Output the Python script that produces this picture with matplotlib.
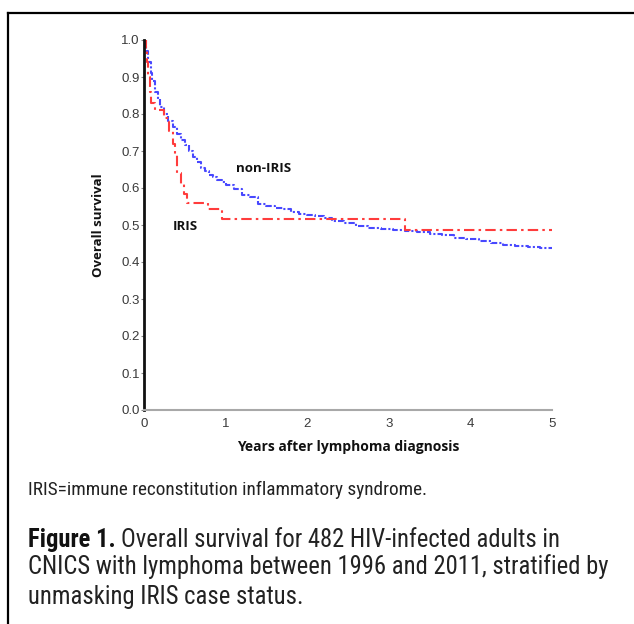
import matplotlib
matplotlib.use("Agg")
import matplotlib.pyplot as plt
from matplotlib.lines import Line2D
from matplotlib import font_manager as fm

# ---- data ----
iris_t = [0, 0.02, 0.04, 0.05, 0.07, 0.09, 0.13, 0.25, 0.31, 0.35, 0.38, 0.41, 0.45, 0.49, 0.53, 0.78, 0.96, 3.20, 5.0]
iris_s = [1.0, 0.97, 0.94, 0.90, 0.86, 0.83, 0.81, 0.79, 0.755, 0.72, 0.69, 0.64, 0.61, 0.585, 0.56, 0.543, 0.516, 0.486, 0.486]

non_t = [0, 0.02, 0.05, 0.08, 0.10, 0.13, 0.17, 0.20, 0.25, 0.30, 0.35, 0.40, 0.45, 0.50, 0.55,
         0.60, 0.65, 0.70, 0.75, 0.80, 0.85, 0.90, 0.95, 1.00, 1.10, 1.20, 1.30, 1.40, 1.50, 1.60,
         1.70, 1.80, 1.90, 2.00, 2.10, 2.20, 2.30, 2.45, 2.60, 2.75, 2.90, 3.05, 3.20, 3.35, 3.50,
         3.65, 3.80, 3.95, 4.10, 4.25, 4.40, 4.55, 4.70, 4.85, 5.0]
non_s = [1.0, 0.97, 0.94, 0.91, 0.89, 0.86, 0.84, 0.82, 0.80, 0.78, 0.765, 0.745, 0.73, 0.715, 0.70,
         0.685, 0.67, 0.655, 0.645, 0.635, 0.63, 0.622, 0.615, 0.608, 0.597, 0.582, 0.575, 0.557, 0.55, 0.547,
         0.542, 0.535, 0.530, 0.527, 0.524, 0.520, 0.512, 0.506, 0.498, 0.493, 0.489, 0.486, 0.484, 0.481, 0.476,
         0.472, 0.466, 0.462, 0.457, 0.452, 0.445, 0.443, 0.440, 0.437, 0.435]

x_ticks = [0, 1, 2, 3, 4, 5]
y_ticks = [0.0, 0.1, 0.2, 0.3, 0.4, 0.5, 0.6, 0.7, 0.8, 0.9, 1.0]

# ---- fonts ----
ttf = fm.fontManager.ttflist
names = {f.name for f in ttf}
narrow_family, narrow_stretch = "Liberation Sans", "normal"
for cand in ["Liberation Sans Narrow", "Roboto Condensed", "Open Sans Condensed", "DejaVu Sans Condensed"]:
    if cand in names:
        narrow_family = cand
        break
else:
    if any(f.name == "DejaVu Sans" and str(f.stretch) in ("condensed", "semi-condensed") for f in ttf):
        narrow_family, narrow_stretch = "DejaVu Sans", "condensed"

sans = "Liberation Sans"
boldlab = "Open Sans"

W, H = 634, 624
fig = plt.figure(figsize=(W / 100, H / 100), dpi=100)

def fx(px):
    return px / W

def fy(py):
    return 1 - py / H

ax = fig.add_axes([fx(144), fy(410), fx(552) - fx(144), fy(40) - fy(410)])

ax.step(non_t, non_s, where="post", color="#4848ff", lw=1.5,
        linestyle=(0, (3, 1, 1, 1)))
ax.step(iris_t, iris_s, where="post", color="#ff3c3c", lw=1.5,
        linestyle=(0, (5, 2, 1.2, 2)))

ax.set_xlim(0, 5)
ax.set_ylim(0, 1.0)
ax.set_xticks(x_ticks)
ax.set_xticklabels([str(v) for v in x_ticks])
ax.set_yticks(y_ticks)
ax.set_yticklabels([f"{v:.1f}" for v in y_ticks])
for lab in ax.get_xticklabels() + ax.get_yticklabels():
    lab.set_fontfamily(sans)
    lab.set_fontsize(9.5)
    lab.set_color("#3a3a3a")
ax.tick_params(axis="y", length=2, width=0.8, color="#888888", pad=1)
ax.tick_params(axis="x", length=0, pad=6)

for s in ["top", "right"]:
    ax.spines[s].set_visible(False)
ax.spines["left"].set_linewidth(2.0)
ax.spines["left"].set_color("#111111")
ax.spines["bottom"].set_linewidth(1.5)
ax.spines["bottom"].set_color("#a8a8a8")

ax.set_xlabel("Years after lymphoma diagnosis", fontfamily=boldlab, fontweight="bold",
              fontsize=10, color="#111111", labelpad=7)
ax.set_ylabel("Overall survival", fontfamily=boldlab, fontweight="bold",
              fontsize=9.5, color="#111111", labelpad=12)

ax.text(1.13, 0.652, "non-IRIS", fontfamily=boldlab, fontweight="bold", fontsize=9.5,
        color="#111111", va="center", ha="left")
ax.text(0.35, 0.497, "IRIS", fontfamily=boldlab, fontweight="bold", fontsize=9.5,
        color="#111111", va="center", ha="left")

# captions
kw = dict(fontfamily=narrow_family, fontstretch=narrow_stretch, va="center", ha="left")
note = fig.text(fx(28), fy(490), "IRIS=immune reconstitution inflammatory syndrome.",
                fontsize=12, color="#222222", **kw)
fig_lab = fig.text(fx(28), fy(540), "Figure 1.", fontweight="bold", fontsize=15,
                   color="#111111", **kw)
cap_lines = ["Overall survival for 482 HIV-infected adults in",
             "CNICS with lymphoma between 1996 and 2011, stratified by",
             "unmasking IRIS case status."]
c0 = fig.text(fx(112), fy(540), cap_lines[0], fontsize=15, color="#222222", **kw)
c1 = fig.text(fx(28), fy(567), cap_lines[1], fontsize=15, color="#222222", **kw)
c2 = fig.text(fx(28), fy(597), cap_lines[2], fontsize=15, color="#222222", **kw)

# fit caption widths to the reference
fig.canvas.draw()
r = fig.canvas.get_renderer()
def fit(t, target_px):
    w = t.get_window_extent(r).width
    t.set_fontsize(t.get_fontsize() * target_px / w)
fit(note, 400)
fit(c1, 580)
cap_fs = c1.get_fontsize()
for t in (fig_lab, c0, c2):
    t.set_fontsize(cap_fs)
fig.canvas.draw()
wb = fig_lab.get_window_extent(r).width
space = cap_fs * 100 / 72 * 0.22
c0.set_x(fx(28 + wb + space))

# border (top and left edges)
fig.add_artist(Line2D([fx(8), fx(W + 5)], [fy(13), fy(13)], color="black", lw=1.6))
fig.add_artist(Line2D([fx(8), fx(8)], [fy(13), fy(H + 5)], color="black", lw=1.6))

fig.savefig("out.png", dpi=100)
